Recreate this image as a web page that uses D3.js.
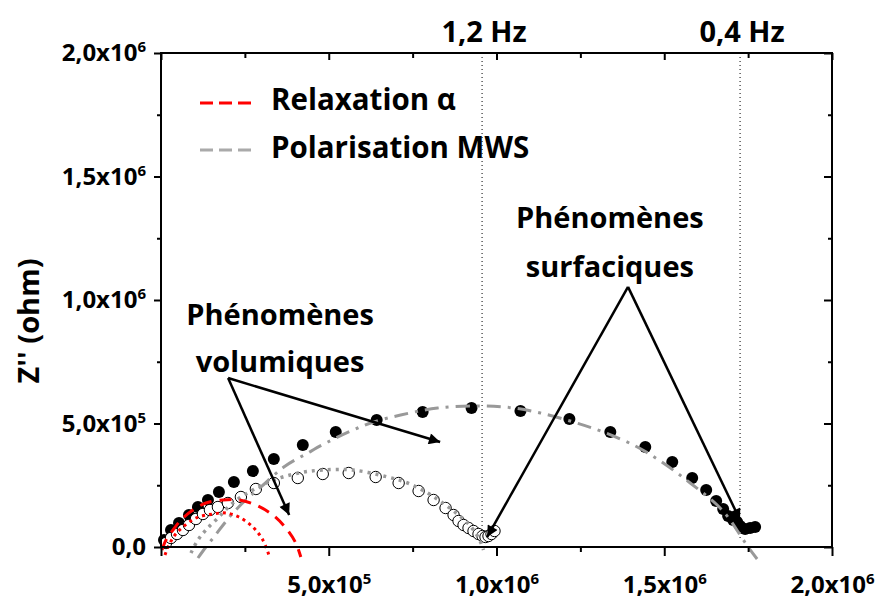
<!DOCTYPE html>
<html>
<head>
<meta charset="utf-8">
<script src="https://cdn.jsdelivr.net/npm/d3@7"></script>
<style>
  body { margin: 0; background: #fff; }
  text { font-family: "Open Sans", sans-serif; font-weight: 700; fill: #000; }
</style>
</head>
<body>
<div id="chart"></div>
<script>
// measured points (ohm), filled circles: whole film
const fullX = [8929, 29762, 53571, 83333, 110119, 139881, 172619, 217262, 273810, 336310, 422619, 520833,
  642857, 779762, 925595, 1071429, 1217262, 1339286, 1443452, 1523810, 1583333, 1625000, 1654762,
  1675595, 1690476, 1705357, 1717262, 1726190, 1741071, 1755952, 1770833];
const fullY = [28340, 68826, 97166, 129555, 161943, 190283, 222672, 263158, 307692, 356275, 412955, 465587,
  514170, 546559, 562753, 550607, 518219, 465587, 404858, 344130, 279352, 230769, 186235,
  153846, 125506, 109312, 101215, 85020, 72874, 76923, 80972];

// open circles
const openX = [14881, 29762, 47619, 65476, 83333, 104167, 125000, 145833, 169643, 199405, 238095, 282738,
  336310, 407738, 482143, 559524, 639881, 708333, 767857, 812500, 848214, 872024, 886905, 901786,
  916667, 931548, 946429, 958333, 967262, 976190, 985119, 994048];
const openY = [16194, 36437, 52632, 68826, 89069, 113360, 133603, 149798, 161943, 178138, 202429, 234818,
  259109, 279352, 295547, 299595, 283401, 259109, 226721, 190283, 157895, 129555, 105263, 89069,
  76923, 64777, 52632, 44534, 40486, 44534, 52632, 64777];

// fitted arcs
const mwsBigX = [110119, 133929, 157738, 187500, 217262, 255952, 297619, 366071, 437500, 497024, 586310, 633929,
  714286, 824405, 952381, 1050595, 1130952, 1229167, 1318452, 1419643, 1497024, 1577381, 1657738,
  1696429, 1726190, 1750000, 1776786];
const mwsBigY = [-44534, 0, 40486, 93117, 141700, 194332, 242915, 323887, 380567, 425101, 481781, 506073,
  534413, 562753, 570850, 562753, 542510, 506073, 465587, 404858, 340081, 259109, 170040,
  109312, 48583, 0, -48583];

const mwsSmallX = [89286, 110119, 133929, 169643, 214286, 273810, 336310, 410714, 482143, 571429, 675595,
  735119, 794643, 848214, 886905, 916667, 937500, 952381, 961310];
const mwsSmallY = [-24291, 28340, 68826, 117409, 178138, 230769, 271255, 299595, 311741, 311741, 283401,
  259109, 218623, 170040, 129555, 93117, 56680, 20243, -12146];

const alphaBigX = [2976, 14881, 35714, 59524, 95238, 133929, 184524, 232143, 282738, 333333, 372024, 401786, 416667];
const alphaBigY = [-12146, 28340, 68826, 109312, 149798, 178138, 190283, 190283, 170040, 129555, 76923, 16194, -40486];

const alphaSmallX = [11905, 23810, 41667, 65476, 104167, 154762, 193452, 232143, 273810, 303571, 321429];
const alphaSmallY = [-32389, 8097, 48583, 80972, 117409, 133603, 137652, 121457, 80972, 28340, -32389];

// axis ticks
const xMajor = [0, 5e5, 1e6, 1.5e6, 2e6];
const xMinor = [2.5e5, 7.5e5, 1.25e6, 1.75e6];
const xLabels = ["", "5,0x10|5", "1,0x10|6", "1,5x10|6", "2,0x10|6"];
const yMajor = [0, 5e5, 1e6, 1.5e6, 2e6];
const yMinor = [2.5e5, 7.5e5, 1.25e6, 1.75e6];
const yLabels = ["0,0", "5,0x10|5", "1,0x10|6", "1,5x10|6", "2,0x10|6"];

// frequency markers
const freqX = [957000, 1726000];
const freqLabels = ["1,2 Hz", "0,4 Hz"];

// annotations [label lines, text x, text y of each line, arrow start, arrow tips]
const volText = ["Phénomènes", "volumiques"];
const volTextPos = [355000, [900000, 710000]];
const volFrom = [200000, 684000];
const volTips = [[832000, 425000], [382000, 130000]];
const surfText = ["Phénomènes", "surfaciques"];
const surfTextPos = [1338000, [1291000, 1093000]];
const surfFrom = [1392000, 1053000];
const surfTips = [[972000, 40000], [1726000, 109000]];

const W = 878, H = 603;
const svg = d3.select("#chart").append("svg")
  .attr("width", W).attr("height", H);

const x = d3.scaleLinear().domain([0, 2e6]).range([161, 832]);
const y = d3.scaleLinear().domain([0, 2e6]).range([547, 53]);

const defs = svg.append("defs");
defs.append("marker")
  .attr("id", "head")
  .attr("viewBox", "0 0 10 10")
  .attr("refX", 10).attr("refY", 5)
  .attr("markerWidth", 6).attr("markerHeight", 4.5)
  .attr("markerUnits", "strokeWidth")
  .attr("orient", "auto")
  .append("path").attr("d", "M0,0 L10,5 L0,10 z").attr("fill", "#000");

// =========================
// FREQUENCY LINES
// =========================
svg.append("g").selectAll("line")
  .data(freqX)
  .join("line")
  .attr("x1", d => x(d)).attr("x2", d => x(d))
  .attr("y1", y(2e6)).attr("y2", y(25000))
  .attr("stroke", "#000").attr("stroke-width", 1)
  .attr("stroke-dasharray", "1,3");

svg.append("g").selectAll("text")
  .data(freqX)
  .join("text")
  .attr("x", d => x(d) + 2)
  .attr("y", 42)
  .attr("text-anchor", "middle")
  .style("font-size", "29px")
  .text((d, i) => freqLabels[i]);

// =========================
// POINTS
// =========================
svg.append("g").selectAll("circle")
  .data(fullX)
  .join("circle")
  .attr("cx", d => x(d))
  .attr("cy", (d, i) => y(fullY[i]))
  .attr("r", 6)
  .attr("fill", "#000");

svg.append("g").selectAll("circle")
  .data(openX)
  .join("circle")
  .attr("cx", d => x(d))
  .attr("cy", (d, i) => y(openY[i]))
  .attr("r", 5.7)
  .attr("fill", "#fff")
  .attr("stroke", "#000")
  .attr("stroke-width", 1);

// =========================
// FIT CURVES
// =========================
const line = d3.line()
  .x(d => x(d[0])).y(d => y(d[1]))
  .curve(d3.curveCatmullRom.alpha(0.5));

const curves = [
  { xs: mwsBigX, ys: mwsBigY, color: "#999", dash: "14,7,3,7", w: 3 },
  { xs: mwsSmallX, ys: mwsSmallY, color: "#999", dash: "3,5", w: 3.5 },
  { xs: alphaBigX, ys: alphaBigY, color: "#ff0000", dash: "12,8", w: 3 },
  { xs: alphaSmallX, ys: alphaSmallY, color: "#ff0000", dash: "3,4", w: 3 }
];

svg.append("g").selectAll("path")
  .data(curves)
  .join("path")
  .attr("d", c => line(c.xs.map((v, i) => [v, c.ys[i]])))
  .attr("fill", "none")
  .attr("stroke", c => c.color)
  .attr("stroke-width", c => c.w)
  .attr("stroke-dasharray", c => c.dash);

// =========================
// AXES
// =========================
function supLabels(g, labels, vals) {
  g.selectAll(".tick text").each(function(d) {
    const t = d3.select(this);
    const lab = labels[vals.indexOf(d)] || "";
    const parts = lab.split("|");
    t.text(parts[0]);
    if (parts[1]) {
      t.append("tspan").attr("dy", "-0.6em").style("font-size", "15px").text(parts[1]);
    }
  });
}

function styleAxis(g) {
  g.select(".domain").remove();
  g.selectAll(".tick line").attr("stroke", "#000").attr("stroke-width", 2);
  g.selectAll(".tick text").style("font-family", "Open Sans").style("font-weight", 700).attr("fill", "#000");
}

// bottom
svg.append("g")
  .attr("transform", `translate(0,${y(0)})`)
  .call(d3.axisBottom(x).tickValues(xMajor).tickSize(9).tickPadding(20).tickFormat(() => ""))
  .call(styleAxis)
  .call(g => g.selectAll(".tick text").style("font-size", "24px"))
  .call(g => supLabels(g, xLabels, xMajor));
svg.append("g")
  .attr("transform", `translate(0,${y(0)})`)
  .call(d3.axisBottom(x).tickValues(xMinor).tickSize(5).tickFormat(""))
  .call(styleAxis);

// top
svg.append("g")
  .attr("transform", `translate(0,${y(2e6)})`)
  .call(d3.axisBottom(x).tickValues(xMajor).tickSize(7).tickFormat(""))
  .call(styleAxis);
svg.append("g")
  .attr("transform", `translate(0,${y(2e6)})`)
  .call(d3.axisBottom(x).tickValues(xMinor).tickSize(5).tickFormat(""))
  .call(styleAxis);

// left
svg.append("g")
  .attr("transform", `translate(${x(0)},0)`)
  .call(d3.axisLeft(y).tickValues(yMajor).tickSize(7).tickPadding(8).tickFormat(() => ""))
  .call(styleAxis)
  .call(g => g.selectAll(".tick text").style("font-size", "24px"))
  .call(g => supLabels(g, yLabels, yMajor));
svg.append("g")
  .attr("transform", `translate(${x(0)},0)`)
  .call(d3.axisLeft(y).tickValues(yMinor).tickSize(4).tickFormat(""))
  .call(styleAxis);

// right
svg.append("g")
  .attr("transform", `translate(${x(2e6)},0)`)
  .call(d3.axisLeft(y).tickValues(yMajor).tickSize(8).tickFormat(""))
  .call(styleAxis);
svg.append("g")
  .attr("transform", `translate(${x(2e6)},0)`)
  .call(d3.axisLeft(y).tickValues(yMinor).tickSize(4).tickFormat(""))
  .call(styleAxis);

// frame
svg.append("rect")
  .attr("x", x(0)).attr("y", y(2e6))
  .attr("width", x(2e6) - x(0)).attr("height", y(0) - y(2e6))
  .attr("fill", "none").attr("stroke", "#000").attr("stroke-width", 2);

// =========================
// AXIS TITLE
// =========================
svg.append("text")
  .attr("transform", "translate(39,321) rotate(-90)")
  .attr("text-anchor", "middle")
  .style("font-size", "29px")
  .text("Z'' (ohm)");

// =========================
// LEGEND
// =========================
const legendItems = [
  { label: "Relaxation α", color: "#ff0000", ly: 103, ty: 110 },
  { label: "Polarisation MWS", color: "#aaa", ly: 150, ty: 158 }
];
const legend = svg.append("g");
legend.selectAll("line")
  .data(legendItems)
  .join("line")
  .attr("x1", 200).attr("x2", 252)
  .attr("y1", d => d.ly).attr("y2", d => d.ly)
  .attr("stroke", d => d.color)
  .attr("stroke-width", 3)
  .attr("stroke-dasharray", "13,6");
legend.selectAll("text")
  .data(legendItems)
  .join("text")
  .attr("x", 271)
  .attr("y", d => d.ty)
  .style("font-size", "29.5px")
  .text(d => d.label);

// =========================
// ANNOTATIONS
// =========================
function annotate(lines, pos, from, tips) {
  const g = svg.append("g");
  g.selectAll("text")
    .data(lines)
    .join("text")
    .attr("x", x(pos[0]))
    .attr("y", (d, i) => y(pos[1][i]))
    .attr("text-anchor", "middle")
    .style("font-size", "29px")
    .text(d => d);
  g.selectAll("line")
    .data(tips)
    .join("line")
    .attr("x1", x(from[0])).attr("y1", y(from[1]))
    .attr("x2", d => x(d[0])).attr("y2", d => y(d[1]))
    .attr("stroke", "#000")
    .attr("stroke-width", 2.5)
    .attr("marker-end", "url(#head)");
}
annotate(volText, volTextPos, volFrom, volTips);
annotate(surfText, surfTextPos, surfFrom, surfTips);
</script>
</body>
</html>
